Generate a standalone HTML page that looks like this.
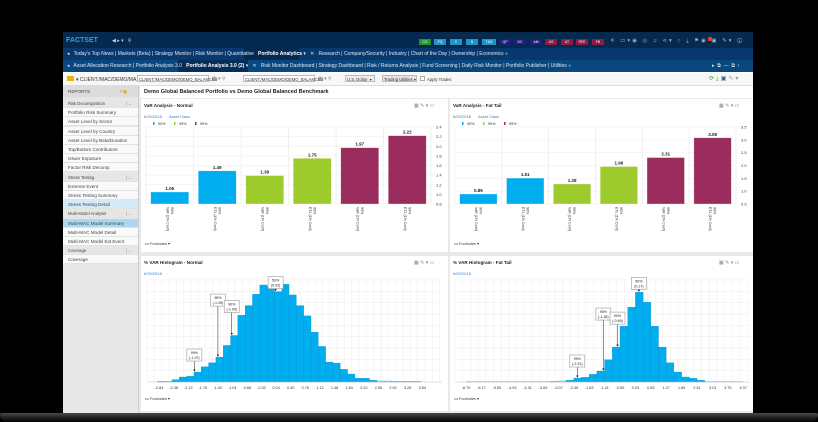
<!DOCTYPE html>
<html><head><meta charset="utf-8">
<style>
*{box-sizing:border-box;margin:0;padding:0}
body{width:818px;height:422px;background:#000;position:relative;overflow:hidden;font-family:"Liberation Sans",sans-serif;}
.a{position:absolute}
.t{position:absolute;white-space:nowrap;font-size:5px;color:#333}
.nav{color:#dfe8f2;font-size:5px}
.btn{position:absolute;top:39px;height:6px;width:12px;font-size:3.5px;color:#fff;text-align:center;line-height:6px}
.side{position:absolute;left:63px;width:75px;height:9px;font-size:4.6px;color:#444;line-height:9px;padding-left:5px;border-bottom:1px solid #e2e2e2;background:#fafafa}
.sec{background:#e6e6e6;font-size:4.2px}
.panel{position:absolute;background:#fff}
svg text{font-family:"Liberation Sans",sans-serif}
</style></head><body>
<div class="a" style="left:0;top:413px;width:818px;height:9px;background:linear-gradient(#4a4a4a,#1a1a1a 60%,#050505);border-radius:2px 2px 8px 8px"></div>
<div class="a" style="left:63px;top:32px;width:690px;height:381px;background:#e9e9e9"></div>
<!-- top bar -->
<div class="a" style="left:63px;top:32px;width:690px;height:16px;background:#05294f"></div>
<div class="t" style="left:66px;top:37px;font-size:7px;font-weight:bold;color:#29a8e0">FACTSET</div>
<div class="t" style="left:112px;top:38px;color:#cfd8e3;font-size:5px">◀ ▸ ▾ &nbsp;&nbsp;⚲</div>
<div class="btn" style="left:419px;background:#1e9a2d">CG</div>
<div class="btn" style="left:434px;background:#1c96c8">FQ</div>
<div class="btn" style="left:450px;background:#1c96c8">C</div>
<div class="btn" style="left:466px;background:#1c96c8">N</div>
<div class="btn" style="left:482px;width:14px;background:#1c96c8">T&amp;S</div>
<div class="btn" style="left:499px;background:#1e1f78">QP</div>
<div class="btn" style="left:514px;background:#1e1f78">DC</div>
<div class="btn" style="left:530px;background:#1e1f78">AM</div>
<div class="btn" style="left:545px;background:#8a1d47">US</div>
<div class="btn" style="left:561px;background:#8a1d47">AT</div>
<div class="btn" style="left:576px;background:#8a1d47">RFE</div>
<div class="btn" style="left:592px;background:#8a1d47">FB</div>
<div class="t" style="left:610px;top:38px;color:#9fb3c8;font-size:5.5px;letter-spacing:2px">✕ ▭▾◉ ◎ ♫ ⋖▾ ○ ⤓ ⚑◉ ▣ ✎▾ ⓘ</div>
<div class="a" style="left:708px;top:37px;width:4px;height:4px;background:#e33"></div>
<!-- tab row 1 -->
<div class="a" style="left:63px;top:48px;width:690px;height:12px;background:#08386d"></div>
<div class="a" style="left:244px;top:48px;width:55px;height:12px;background:#052a52"></div>
<div class="t nav" style="left:67px;top:51px">◂ &nbsp; Today's Top News | Markets (Beta) | Strategy Monitor | Risk Monitor | Quantitative &nbsp; <b style="color:#fff">Portfolio Analytics</b> ▾ &nbsp; ✕ &nbsp; Research | Company/Security | Industry | Chart of the Day | Ownership | Economics <span style="color:#29a8e0">●</span></div>
<!-- tab row 2 -->
<div class="a" style="left:63px;top:60px;width:690px;height:12px;background:#0b477f"></div>
<div class="a" style="left:178px;top:60px;width:70px;height:12px;background:#062d58"></div>
<div class="t nav" style="left:67px;top:63px">◂ &nbsp; Asset Allocation Research | Portfolio Analysis 3.0 &nbsp; <b style="color:#fff">Portfolio Analysis 3.0 (2)</b> ▾ &nbsp; ✕ &nbsp; Risk Monitor Dashboard | Strategy Dashboard | Risk / Returns Analysis | Fund Screening | Daily Risk Monitor | Portfolio Publisher | Utilities <span style="color:#29a8e0">●</span></div>
<div class="t nav" style="left:712px;top:63px">▸ &nbsp;⧉ &nbsp;— &nbsp;⧉ &nbsp;›</div>
<!-- toolbar -->
<div class="a" style="left:63px;top:72px;width:690px;height:14px;background:#f7f7f7;border-top:1px solid #fff;border-bottom:1px solid #ddd"></div>
<div class="a" style="left:67px;top:76px;width:7px;height:5px;background:#f0b400"></div>
<div class="t" style="left:76px;top:77px">▾ CLIENT:/MAC/DEMO/MA...</div>
<div class="a" style="left:137px;top:75px;width:72px;height:7px;border:1px solid #bbb;background:#fff"></div>
<div class="t" style="left:139px;top:77px;font-size:4.2px">CLIENT:/MAC/DEMO/DEMO_BALANCED</div>
<div class="t" style="left:212px;top:76px;color:#888">▦ ▾ ⚲</div>
<div class="a" style="left:243px;top:75px;width:72px;height:7px;border:1px solid #bbb;background:#fff"></div>
<div class="t" style="left:245px;top:77px;font-size:4.2px">CLIENT:/MAC/DEMO/DEMO_BALANCED</div>
<div class="t" style="left:318px;top:76px;color:#888">▦ ▾ ⚲</div>
<div class="a" style="left:345px;top:75px;width:30px;height:7px;border:1px solid #bbb;background:#eee"></div>
<div class="t" style="left:347px;top:77px;font-size:4.2px">U.S. Dollar &nbsp;▾</div>
<div class="a" style="left:382px;top:75px;width:35px;height:7px;border:1px solid #bbb;background:#e4e4e4"></div>
<div class="t" style="left:384px;top:77px;font-size:4.2px">Trading Utilities ▾</div>
<div class="a" style="left:420px;top:76px;width:5px;height:5px;border:1px solid #aaa;background:#fff"></div>
<div class="t" style="left:427px;top:77px;font-size:4.2px">Apply Trades</div>
<div class="t" style="left:709px;top:75px;font-size:6px;letter-spacing:2px"><span style="color:#2a9a3a">⟳</span><span style="color:#6a3">⤓</span><span style="color:#35689c">▣</span><span style="color:#999">✎▾</span></div>
<!-- sidebar -->
<div class="a" style="left:63px;top:86px;width:76px;height:327px;background:#e8e8e8;border-right:1px solid #ccc"></div>
<div class="side sec" style="top:86px;height:12px;line-height:12px;background:#dcdcdc;font-size:4.6px">REPORTS<span style="position:absolute;left:56px;color:#e8a000">✕▣</span></div>
<div id="sidelist"></div>
<!-- main -->
<div class="a" style="left:140px;top:86px;width:613px;height:12px;background:#fff"></div>
<div class="t" style="left:144px;top:89px;font-size:5.5px;font-weight:bold;color:#222">Demo Global Balanced Portfolio vs Demo Global Balanced Benchmark</div>
<div class="panel" style="left:141px;top:99px;width:307px;height:153px"></div>
<div class="panel" style="left:450px;top:99px;width:303px;height:153px"></div>
<div class="panel" style="left:141px;top:256px;width:307px;height:155px"></div>
<div class="panel" style="left:450px;top:256px;width:303px;height:155px"></div>
<svg id="charts" class="a" style="left:0;top:0" width="818" height="422"></svg>
<script>
// ---- data ----
const sideItems=["Risk Decomposition","Portfolio Risk Summary","Asset Level by Sector","Asset Level by Country","Asset Level by Beta/Duration","Top/Bottom Contributors","Issuer Exposure","Factor Risk Decomp","Stress Testing","Extreme Event","Stress Testing Summary","Stress Testing Detail","Multi-Model Analysis","Multi-MAC Model Summary","Multi-MAC Model Detail","Multi-MAC Model Ext Event","Coverage","Coverage"];
const sideSections=[0,8,12,16];
const barCategories=["90% VaR (1% Conf)","90% ETL (1% Conf)","95% VaR (1% Conf)","95% ETL (1% Conf)","99% VaR (1% Conf)","99% ETL (1% Conf)"];
const normalVaR=[1.05,1.49,1.39,1.75,1.97,2.22];
const fatVaR=[0.89,1.51,1.28,1.96,2.31,3.08];
const normalTicks=[0.8,1.0,1.2,1.4,1.6,1.8,2.0,2.2,2.4];
const fatTicks=[0.5,1.0,1.5,2.0,2.5,3.0,3.5];
const histNormalTicks=["-2.84","-2.48","-2.12","-1.76","-1.40","-1.04","-0.68","-0.32","0.04","0.40","0.76","1.12","1.48","1.84","2.20","2.56","2.92","3.28","3.64"];
const histNormalCounts=[2,2,7,15,17,30,46,58,75,110,140,201,230,264,292,287,272,294,262,230,199,150,107,60,57,38,24,11,11,5,3,3,2,2,2,2];
const histNormalStart=-2.88, histNormalBin=0.18;
const histFatTicks=["-6.79","-6.17","-5.55","-4.93","-4.31","-3.69","-3.07","-2.45","-1.83","-1.21","-0.59","0.03","0.65","1.27","1.89","2.51","3.13","3.75","4.37"];
const histFatCounts=[1,1,1,1,1,1,1,1,1,1,1,2,3,5,12,14,23,33,67,105,168,225,270,240,168,105,58,30,15,11,5,1,1,1,1,1];
const histFatStart=-6.79, histFatBin=0.31;
const normalAnnot=[["99%","(-1.97)",-1.97],["95%","(-1.39)",-1.39],["90%","(-1.05)",-1.05],["50%","(0.03)",0.03]];
const fatAnnot=[["99%","(-2.31)",-2.31],["95%","(-1.26)",-1.26],["90%","(-0.69)",-0.69],["50%","(0.17)",0.17]];
const barColors=["#00aeef","#00aeef","#9dcb2e","#9dcb2e","#9b2d5e","#9b2d5e"];

// sidebar
const sl=document.getElementById('sidelist');
sideItems.forEach((s,i)=>{const d=document.createElement('div');


d.className='side'+(sideSections.includes(i)?' sec':'');d.style.top=(99+i*9.2)+'px';d.textContent=s;
if(i===11)d.style.background='#d3ebf8';if(i===13)d.style.background='#a9d9f2';
if(sideSections.includes(i)){const c=document.createElement('span');c.textContent='| ⌄';c.style.cssText='position:absolute;left:63px;color:#888';d.appendChild(c);}
sl.appendChild(d);});

const svg=document.getElementById('charts');const NS='http://www.w3.org/2000/svg';
function el(tag,attrs,parent){const e=document.createElementNS(NS,tag);for(const k in attrs)e.setAttribute(k,attrs[k]);(parent||svg).appendChild(e);return e;}
function txt(x,y,s,size,fill,anchor,extra){const t=el('text',Object.assign({x:x,y:y,'font-size':size,fill:fill||'#333','text-anchor':anchor||'start'},extra||{}));t.textContent=s;return t;}

function panelHeader(px,py,w,title,showLegend){
  const t=txt(px+3,py+8,title,4.6,'#222','start',{'font-weight':'bold'});
  
  
  const ic=txt(px+w-34,py+8,'▦  ✎ ▾  ▭',5,'#888');
  
  
  const d=txt(px+3,py+19,'6/29/2018',4,'#3a7fc1');
  
  
  if(showLegend){
    const ac=txt(px+28,py+19,'Asset Class',4,'#3a7fc1');
    
    
    [['#00aeef','90%'],['#9dcb2e','95%'],['#9b2d5e','99%']].forEach((l,i)=>{
      const g=el('g',{});
      
      
      el('rect',{x:px+12+i*21,y:py+23,width:1.5,height:3,fill:l[0]},g);
      txt(px+17+i*21,py+26,l[1],3.8,'#333','start').parentNode!==g&&0;
    });
  }
}

function barChart(px,py,x0,x1,y0,y1,vals,ticks,name){
  const vmin=ticks[0],vmax=ticks[ticks.length-1];
  const ys=v=>y1-(v-vmin)/(vmax-vmin)*(y1-y0);
  const n=vals.length,cw=(x1-x0)/n;
  ticks.forEach(t=>{el('line',{x1:x0,x2:x1,y1:ys(t),y2:ys(t),stroke:'#eee','stroke-width':0.5});
    const l=txt(x1+5,ys(t)+1.5,t.toFixed(1),4,'#333');
    
    });
  for(let i=0;i<=n;i++)el('line',{x1:x0+i*cw,x2:x0+i*cw,y1:y0,y2:y1,stroke:'#e6e6e6','stroke-width':0.5});
  vals.forEach((v,i)=>{
    const bx=x0+i*cw+cw*0.1,bw=cw*0.8;
    const r=el('rect',{x:bx,y:ys(v),width:bw,height:y1-ys(v),fill:barColors[i],stroke:'#fff','stroke-opacity':0.5,'stroke-width':0.6});
    
    
    const vl=txt(bx+bw/2,ys(v)-2,v.toFixed(2),4.5,'#222','middle',{'font-weight':'bold'});
    
    
    const parts=barCategories[i].split(' ');
    const cx=x0+i*cw+cw/2, cy=y1+3;
    const g=el('g',{transform:`translate(${cx},${cy}) rotate(90)`});
    
    
    const a=el('text',{x:0,y:-1,'font-size':3.6,fill:'#333'},g);a.textContent=parts[0];
    const b=el('text',{x:0,y:3.5,'font-size':3.6,fill:'#333'},g);b.textContent=parts.slice(1).join(' ');
  });
  const f=txt(px+4,py+146,'••• Footnotes ▾',3.8,'#333');
  
  
}

function histogram(px,py,x0,x1,y0,y1,tickLabels,tickFirstX,tickStepX,counts,start,bin,ymax,annots,name){
  const tickVals=tickLabels.map(Number);
  const step=tickVals[1]-tickVals[0];
  const xs=v=>tickFirstX+(v-tickVals[0])/step*tickStepX;
  const ys=c=>y1-c/ymax*(y1-y0);
  for(let i=0;i<=9;i++)el('line',{x1:x0,x2:x1,y1:y1-i*(y1-y0)/9,y2:y1-i*(y1-y0)/9,stroke:'#ececec','stroke-width':0.5});
  for(let x=x0;x<=x1;x+=tickStepX/2)el('line',{x1:x,x2:x,y1:y0,y2:y1,stroke:'#ececec','stroke-width':0.5});
  counts.forEach((c,i)=>{
    const a=xs(start+i*bin),b=xs(start+(i+1)*bin);
    const r=el('rect',{x:a,y:ys(c),width:b-a,height:y1-ys(c),fill:c<=3?'#bcd9ef':'#00aeef',stroke:'#0a86c0','stroke-width':0.3});
    
    
  });
  el('line',{x1:x0,x2:x1,y1:y1,y2:y1,stroke:'#ccc','stroke-width':0.5});
  tickLabels.forEach((t,i)=>{const l=txt(xs(tickVals[i]),y1+7,t,3.8,'#333','middle');
    
    });
  const boxLift=[10,50,22,2];
  annots.forEach((an,k)=>{
    const v=an[2];const bi=Math.floor((v-start)/bin);const c=counts[Math.max(0,Math.min(counts.length-1,bi))];
    const ax=xs(v),ay=ys(c);
    const by=ay-boxLift[k]-13;
    const g=el('g',{});
    
    
    el('line',{x1:ax,x2:ax,y1:by+12,y2:ay-1,stroke:'#222','stroke-width':0.5},g);
    el('path',{d:`M${ax-1.2},${ay-2.5}L${ax+1.2},${ay-2.5}L${ax},${ay-0.5}Z`,fill:'#111'},g);
    el('rect',{x:ax-7.5,y:by,width:15,height:12,fill:'#fff',stroke:'#999','stroke-width':0.6},g);
    const t1=el('text',{x:ax,y:by+5,'font-size':3.6,'text-anchor':'middle',fill:'#222'},g);t1.textContent=an[0];
    const t2=el('text',{x:ax,y:by+10,'font-size':3.6,'text-anchor':'middle',fill:'#222'},g);t2.textContent=an[1];
  });
  const f=txt(px+4,py+144,'••• Footnotes ▾',3.8,'#333');
  
  
}

panelHeader(141,99,307,'VaR Analysis - Normal',true);
panelHeader(450,99,303,'VaR Analysis - Fat Tail',true);
panelHeader(141,256,307,'% VAR Histogram - Normal',false);
panelHeader(450,256,303,'% VAR Histogram - Fat Tail',false);
barChart(141,99,146,431,127,204,normalVaR,normalTicks,'normal');
barChart(450,99,455,736,127,204,fatVaR,fatTicks,'fattail');
histogram(141,256,147,442,280,382,histNormalTicks,159,14.63,histNormalCounts,histNormalStart,histNormalBin,307,normalAnnot,'normal-hist');
histogram(450,256,455,750,280,382,histFatTicks,466,15.4,histFatCounts,histFatStart,histFatBin,307,fatAnnot,'fattail-hist');
</script>
</body></html>
